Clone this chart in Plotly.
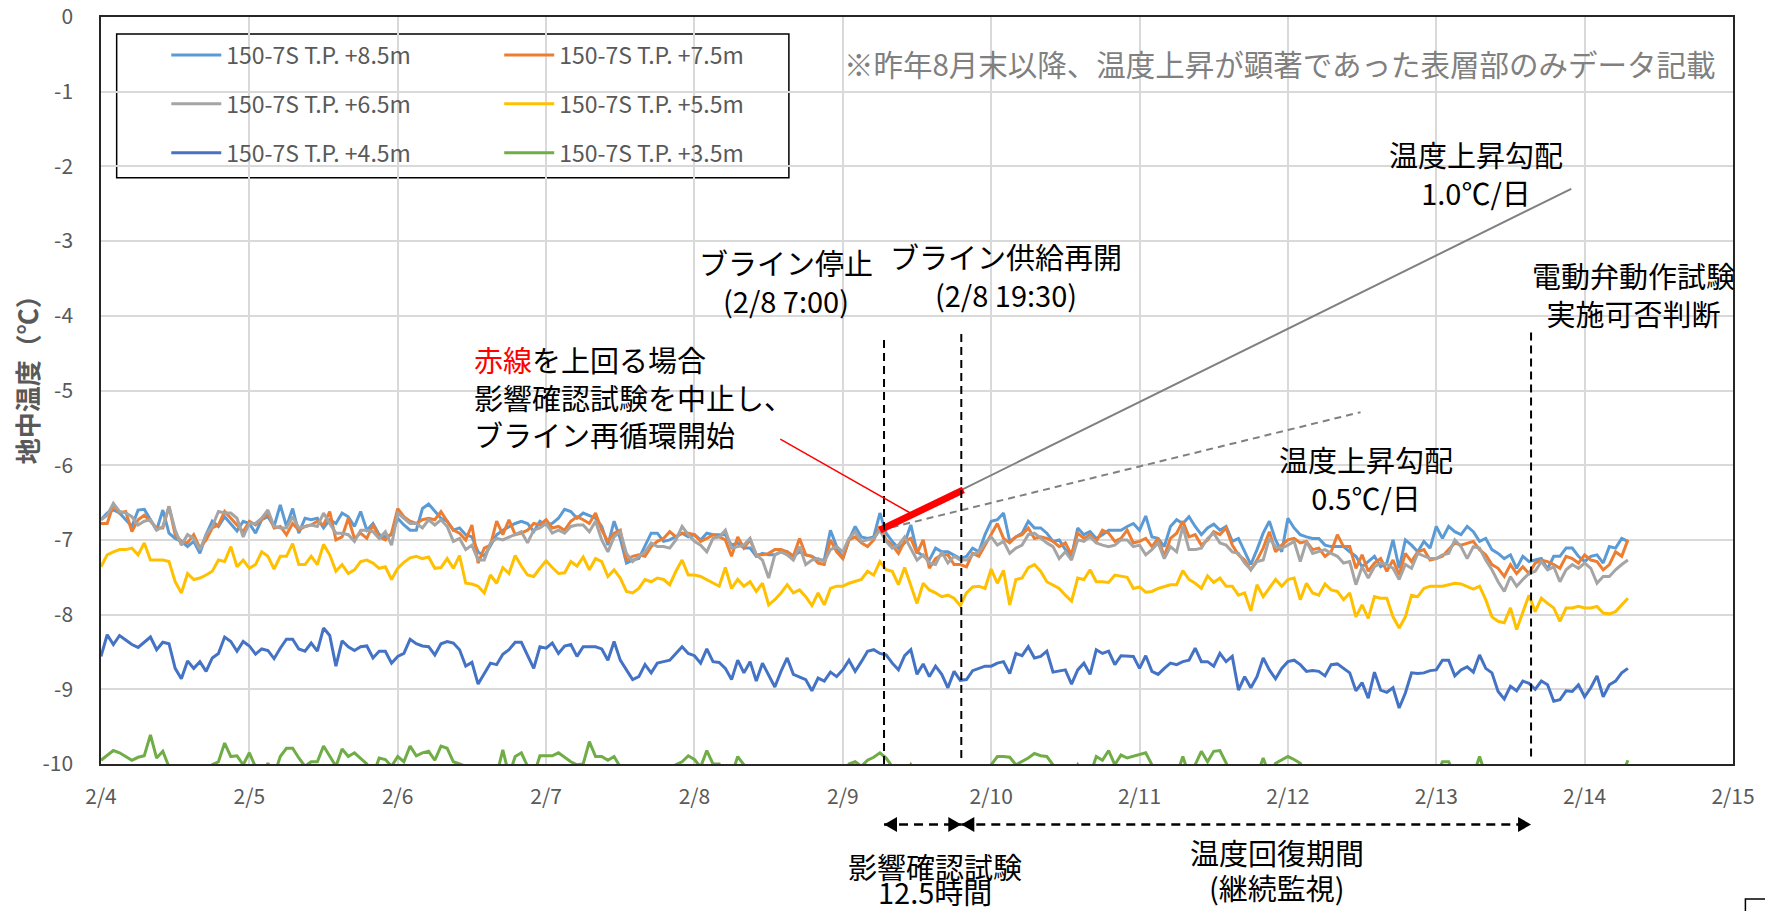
import pandas as pd
import plotly.graph_objects as go

FONT = "Noto Sans CJK JP"

# ---------------- data (hourly readings from 2/4 00:00) ----------------
START = "2024-02-04 00:00"

series_names = [
    "150-7S T.P. +8.5m", "150-7S T.P. +7.5m", "150-7S T.P. +6.5m",
    "150-7S T.P. +5.5m", "150-7S T.P. +4.5m", "150-7S T.P. +3.5m",
]
series_colors = ["#5B9BD5", "#ED7D31", "#A5A5A5", "#FFC000", "#4472C4", "#70AD47"]

temp_85 = [
    -6.73, -6.64, -6.60, -6.64, -6.73, -6.82, -6.60, -6.59, -6.73, -6.87,
    -6.60, -6.91, -6.98, -7.02, -7.09, -7.02, -7.18, -6.93, -6.75, -6.82,
    -6.69, -6.78, -6.88, -6.75, -6.78, -6.91, -6.73, -6.69, -6.82, -6.53,
    -6.82, -6.58, -6.91, -6.71, -6.73, -6.71, -6.84, -6.73, -6.78, -6.64,
    -6.69, -6.82, -6.62, -6.87, -6.78, -6.93, -6.96, -6.93, -6.71, -6.80,
    -6.87, -6.87, -6.58, -6.52, -6.62, -6.71, -6.75, -6.87, -6.84, -6.93,
    -6.96, -7.16, -7.22, -7.07, -6.93, -6.87, -6.82, -6.78, -6.75, -6.78,
    -6.89, -6.75, -6.80, -6.78, -6.71, -6.59, -6.62, -6.71, -6.64, -6.67,
    -6.71, -6.82,
    -7.07, -6.75, -6.98, -7.31, -7.27, -7.25, -7.07, -6.91, -6.91, -7.02,
    -7.00, -6.96, -6.91, -6.96, -6.93, -7.00, -6.91, -6.93, -6.93, -6.93,
    -7.07, -7.04, -7.11, -7.11, -7.22, -7.18, -7.20, -7.20, -7.16, -7.16,
    -7.22, -7.16, -7.20, -7.22, -7.27, -7.27, -6.87, -7.09, -7.25, -7.00,
    -6.82, -6.96, -6.98, -6.96, -6.64, -6.91, -7.02, -7.11, -7.04, -6.80,
    -7.16, -7.22, -7.27, -7.11, -7.16, -7.16, -7.20, -7.25, -7.22, -7.11,
    -7.16, -6.93, -6.75, -6.73, -6.64, -7.02, -6.96, -6.91, -6.75, -6.84,
    -6.84, -6.91, -7.02, -7.00, -7.13, -7.22, -6.84, -6.93, -6.89, -6.98,
    -6.93, -6.87,
    -6.87, -6.87, -6.82, -6.78, -6.87, -6.68, -6.96, -6.98, -7.09, -6.82,
    -6.73, -6.78, -6.69, -6.82, -6.93, -6.84, -6.79, -6.87, -6.82, -7.02,
    -6.98, -7.16, -7.33, -7.13, -6.91, -6.75, -7.00, -7.16, -6.71, -6.84,
    -6.93, -6.96, -6.98, -6.98, -7.07, -7.09, -7.09, -7.09, -7.16, -7.22,
    -7.36, -7.29, -7.22, -7.36, -7.31, -7.00, -7.38, -7.00, -7.07, -7.16,
    -7.02, -7.11, -6.82, -6.98, -6.82, -6.89, -6.93, -6.82, -6.89, -7.02,
    -6.98, -7.13, -7.18, -7.25, -7.20, -7.38, -7.22, -7.29, -7.27, -7.25,
    -7.39, -7.22, -7.22, -7.11, -7.11, -7.22, -7.29, -7.22, -7.20, -7.31,
    -7.09, -7.11, -6.98, -7.02,
]

temp_75 = [
    -6.78, -6.78, -6.53, -6.64, -6.62, -6.89, -6.73, -6.67, -6.75, -6.84,
    -6.84, -6.55, -6.93, -7.02, -7.04, -6.93, -7.11, -7.00, -6.84, -6.80,
    -6.62, -6.71, -6.80, -6.89, -6.75, -6.80, -6.73, -6.64, -6.84, -6.82,
    -6.93, -6.78, -6.87, -6.82, -6.80, -6.75, -6.80, -6.62, -7.00, -6.96,
    -6.71, -6.98, -6.91, -6.98, -6.80, -6.96, -7.00, -6.91, -6.58, -6.69,
    -6.75, -6.78, -6.73, -6.71, -6.73, -6.62, -6.75, -6.87, -6.91, -7.00,
    -6.80, -7.31, -7.11, -7.07, -6.75, -6.93, -6.73, -6.93, -6.91, -6.87,
    -6.78, -6.80, -6.73, -6.84, -6.82, -6.87, -6.75, -6.69, -6.73, -6.78,
    -6.64, -6.87,
    -7.02, -6.91, -6.87, -7.27, -7.22, -7.20, -7.22, -7.09, -7.02, -6.98,
    -6.89, -6.96, -6.91, -6.91, -6.93, -7.02, -6.98, -6.93, -6.96, -7.00,
    -7.22, -6.96, -7.11, -7.00, -7.20, -7.20, -7.18, -7.13, -7.13, -7.16,
    -7.22, -6.98, -7.20, -7.22, -7.31, -7.33, -7.00, -7.16, -7.25, -7.00,
    -6.96, -7.04, -7.09, -7.00, -6.82, -7.00, -7.07, -7.18, -7.02, -6.98,
    -7.18, -7.00, -7.38, -7.25, -7.20, -7.20, -7.33, -7.33, -7.36, -7.18,
    -7.22, -7.07, -6.93, -6.78, -6.98, -7.04, -6.96, -6.93, -6.84, -6.98,
    -6.96, -6.98, -7.02, -7.09, -7.04, -7.20, -6.91, -6.98, -6.93, -7.02,
    -6.87, -6.91,
    -7.02, -6.98, -6.87, -7.04, -7.02, -6.98, -7.09, -6.98, -7.22, -6.98,
    -6.91, -6.75, -6.96, -6.93, -7.07, -7.00, -6.89, -6.93, -6.84, -7.07,
    -7.20, -7.27, -7.40, -7.27, -7.11, -6.89, -7.16, -7.07, -7.00, -6.98,
    -7.04, -7.02, -7.13, -7.11, -7.22, -7.16, -6.93, -7.09, -7.09, -7.38,
    -7.20, -7.42, -7.31, -7.25, -7.42, -7.27, -7.47, -7.18, -7.29, -7.16,
    -7.13, -7.27, -7.25, -7.22, -7.13, -7.04, -7.07, -7.04, -7.02, -7.13,
    -7.20, -7.33, -7.38, -7.49, -7.33, -7.45, -7.36, -7.45, -7.31, -7.27,
    -7.29, -7.33, -7.38, -7.22, -7.25, -7.31, -7.20, -7.27, -7.29, -7.40,
    -7.33, -7.16, -7.22, -7.00,
]

temp_65 = [
    -6.73, -6.67, -6.51, -6.62, -6.64, -6.69, -6.80, -6.75, -6.73, -6.87,
    -6.82, -6.55, -6.87, -7.07, -6.93, -6.98, -7.13, -6.93, -6.82, -6.62,
    -6.64, -6.64, -6.71, -6.96, -6.78, -6.78, -6.71, -6.60, -6.82, -6.84,
    -6.84, -6.69, -6.84, -6.82, -6.80, -6.82, -6.64, -6.78, -6.91, -6.91,
    -6.93, -7.02, -6.87, -6.87, -6.89, -6.98, -6.89, -7.07, -6.64, -6.71,
    -6.78, -6.78, -6.84, -6.73, -6.80, -6.73, -6.82, -7.02, -6.98, -7.13,
    -7.07, -7.27, -7.27, -7.04, -6.98, -7.00, -6.96, -6.93, -6.89, -7.04,
    -6.87, -6.84, -6.78, -6.91, -6.87, -6.91, -6.82, -6.80, -6.80, -6.89,
    -6.75, -7.00,
    -7.16, -6.96, -6.89, -7.18, -7.29, -7.22, -7.16, -7.04, -7.09, -7.09,
    -7.11, -7.00, -6.82, -6.93, -7.02, -7.07, -7.16, -6.98, -6.96, -6.87,
    -7.11, -7.09, -7.07, -6.98, -7.20, -7.27, -7.51, -7.20, -7.16, -7.20,
    -7.27, -7.09, -7.33, -7.27, -7.25, -7.29, -7.13, -7.09, -7.16, -6.98,
    -6.89, -7.02, -7.00, -6.98, -6.87, -7.02, -7.11, -7.07, -6.96, -7.11,
    -7.27, -7.20, -7.31, -7.33, -7.16, -7.31, -7.22, -7.27, -7.27, -7.20,
    -7.16, -7.04, -6.96, -7.07, -7.02, -7.18, -7.11, -7.07, -6.93, -6.91,
    -6.98, -7.04, -7.09, -7.25, -7.16, -7.27, -7.00, -7.02, -6.96, -7.04,
    -7.07, -7.09,
    -7.07, -7.00, -7.00, -7.09, -7.07, -7.20, -7.13, -7.04, -7.25, -7.09,
    -7.16, -6.82, -7.13, -7.13, -7.11, -6.98, -6.91, -7.04, -7.07, -7.16,
    -7.18, -7.31, -7.40, -7.29, -7.27, -6.98, -7.09, -7.11, -7.07, -7.02,
    -7.29, -7.02, -7.18, -7.16, -7.13, -7.18, -7.22, -7.31, -7.29, -7.60,
    -7.36, -7.51, -7.36, -7.31, -7.33, -7.38, -7.53, -7.33, -7.38, -7.18,
    -7.22, -7.25, -7.25, -7.20, -7.18, -7.00, -7.09, -7.25, -7.09, -7.11,
    -7.27, -7.40, -7.56, -7.69, -7.49, -7.62, -7.53, -7.45, -7.42, -7.29,
    -7.40, -7.36, -7.56, -7.40, -7.33, -7.38, -7.31, -7.38, -7.58, -7.49,
    -7.49, -7.40, -7.33, -7.27,
]

temp_55 = [
    -7.36, -7.20, -7.16, -7.13, -7.13, -7.11, -7.20, -7.04, -7.27, -7.27,
    -7.27, -7.29, -7.56, -7.71, -7.45, -7.53, -7.51, -7.47, -7.42, -7.27,
    -7.29, -7.09, -7.36, -7.27, -7.38, -7.33, -7.16, -7.22, -7.39, -7.22,
    -7.22, -7.05, -7.33, -7.33, -7.22, -7.33, -7.06, -7.20, -7.42, -7.33,
    -7.45, -7.40, -7.29, -7.27, -7.31, -7.38, -7.36, -7.53, -7.38, -7.30,
    -7.24, -7.22, -7.25, -7.23, -7.38, -7.37, -7.25, -7.38, -7.21, -7.58,
    -7.59, -7.62, -7.71, -7.47, -7.58, -7.37, -7.45, -7.21, -7.35, -7.47,
    -7.49, -7.38, -7.28, -7.37, -7.45, -7.44, -7.29, -7.35, -7.23, -7.40,
    -7.25, -7.29,
    -7.49, -7.40, -7.51, -7.69, -7.71, -7.65, -7.53, -7.56, -7.51, -7.53,
    -7.60, -7.42, -7.27, -7.47, -7.47, -7.49, -7.53, -7.58, -7.62, -7.37,
    -7.65, -7.53, -7.62, -7.56, -7.69, -7.58, -7.87, -7.80, -7.71, -7.60,
    -7.71, -7.67, -7.76, -7.88, -7.71, -7.87, -7.65, -7.62, -7.62, -7.58,
    -7.56, -7.53, -7.42, -7.47, -7.29, -7.40, -7.42, -7.60, -7.37, -7.62,
    -7.85, -7.58, -7.67, -7.71, -7.76, -7.74, -7.78, -7.88, -7.71, -7.63,
    -7.62, -7.65, -7.39, -7.58, -7.41, -7.87, -7.53, -7.51, -7.37, -7.33,
    -7.42, -7.56, -7.60, -7.65, -7.74, -7.82, -7.51, -7.53, -7.40, -7.56,
    -7.56, -7.57,
    -7.47, -7.48, -7.50, -7.65, -7.63, -7.70, -7.69, -7.65, -7.63, -7.60,
    -7.60, -7.41, -7.53, -7.58, -7.65, -7.48, -7.57, -7.51, -7.62, -7.62,
    -7.74, -7.71, -7.95, -7.60, -7.76, -7.65, -7.53, -7.62, -7.53, -7.51,
    -7.80, -7.58, -7.71, -7.74, -7.59, -7.67, -7.69, -7.80, -7.71, -8.03,
    -7.87, -8.05, -7.76, -7.78, -7.78, -8.03, -8.18, -8.03, -7.74, -7.76,
    -7.65, -7.62, -7.62, -7.62, -7.60, -7.58, -7.59, -7.62, -7.66, -7.62,
    -7.80, -8.03, -8.09, -8.11, -7.91, -8.20, -7.98, -7.74, -7.96, -7.78,
    -7.85, -7.91, -8.09, -7.91, -7.91, -7.89, -7.91, -7.91, -7.89, -7.98,
    -7.99, -7.96, -7.87, -7.78,
]

temp_45 = [
    -8.56, -8.27, -8.40, -8.28, -8.34, -8.40, -8.44, -8.37, -8.30, -8.47,
    -8.37, -8.39, -8.72, -8.86, -8.62, -8.72, -8.63, -8.76, -8.58, -8.52,
    -8.30, -8.36, -8.49, -8.36, -8.42, -8.53, -8.46, -8.48, -8.59, -8.45,
    -8.33, -8.33, -8.46, -8.49, -8.38, -8.49, -8.18, -8.28, -8.69, -8.35,
    -8.43, -8.48, -8.43, -8.42, -8.58, -8.49, -8.49, -8.65, -8.56, -8.52,
    -8.33, -8.39, -8.42, -8.43, -8.54, -8.39, -8.36, -8.38, -8.47, -8.69,
    -8.64, -8.93, -8.78, -8.65, -8.67, -8.53, -8.47, -8.37, -8.37, -8.54,
    -8.72, -8.43, -8.45, -8.38, -8.52, -8.42, -8.40, -8.56, -8.43, -8.43,
    -8.43, -8.46,
    -8.61, -8.36, -8.61, -8.74, -8.87, -8.83, -8.67, -8.78, -8.65, -8.63,
    -8.61, -8.52, -8.43, -8.52, -8.55, -8.65, -8.46, -8.63, -8.64, -8.72,
    -8.87, -8.61, -8.78, -8.63, -8.89, -8.65, -8.80, -8.97, -8.76, -8.58,
    -8.80, -8.83, -8.87, -9.02, -8.85, -8.89, -8.77, -8.83, -8.74, -8.61,
    -8.76, -8.63, -8.49, -8.47, -8.52, -8.54, -8.65, -8.74, -8.55, -8.47,
    -8.80, -8.66, -8.83, -8.69, -8.80, -8.98, -8.76, -8.88, -8.87, -8.75,
    -8.72, -8.69, -8.69, -8.65, -8.63, -8.79, -8.52, -8.55, -8.43, -8.58,
    -8.56, -8.49, -8.77, -8.75, -8.74, -8.93, -8.74, -8.65, -8.80, -8.47,
    -8.52, -8.49,
    -8.67, -8.55, -8.56, -8.56, -8.72, -8.55, -8.76, -8.80, -8.72, -8.65,
    -8.67, -8.63, -8.61, -8.45, -8.63, -8.63, -8.69, -8.52, -8.63, -8.56,
    -9.01, -8.83, -8.98, -8.83, -8.58, -8.74, -8.86, -8.72, -8.63, -8.61,
    -8.67, -8.76, -8.75, -8.76, -8.82, -8.67, -8.66, -8.72, -8.78, -9.02,
    -8.91, -9.12, -8.77, -9.01, -9.04, -8.98, -9.25, -9.05, -8.78, -8.79,
    -8.78, -8.75, -8.74, -8.61, -8.61, -8.82, -8.74, -8.70, -8.77, -8.54,
    -8.72, -8.78, -9.03, -9.13, -8.96, -9.02, -8.89, -8.92, -9.00, -8.89,
    -8.94, -9.16, -9.14, -9.02, -9.03, -8.94, -9.10, -8.98, -8.82, -9.10,
    -8.94, -8.89, -8.78, -8.72,
]

# values below -10 are off the chart (clipped at the axis, as in the source)
temp_35 = [
    -9.95, -9.89, -9.82, -9.85, -9.90, -9.95, -9.91, -9.89, -9.61, -9.92,
    -9.83, -10.04, -10.15, -10.15, -10.15, -10.15, -10.15, -10.15, -10.01, -9.97,
    -9.72, -9.90, -9.89, -10.01, -9.85, -10.04, -10.15, -9.99, -10.15, -9.90,
    -9.79, -9.79, -9.92, -10.03, -9.97, -9.97, -9.76, -9.90, -10.03, -9.80,
    -9.90, -9.85, -9.92, -10.00, -10.15, -9.92, -9.94, -10.03, -9.90, -9.97,
    -9.76, -9.89, -9.85, -9.83, -9.95, -9.76, -9.79, -9.97, -10.00, -10.03,
    -10.15, -10.15, -10.15, -10.15, -10.15, -9.81, -10.15, -9.90, -9.85, -10.03,
    -10.15, -9.89, -9.89, -9.89, -9.85, -9.91, -9.97, -10.01, -10.00, -9.70,
    -9.90, -9.90,
    -9.95, -9.90, -10.04, -10.15, -10.15, -10.15, -10.15, -10.15, -10.15, -10.15,
    -10.15, -10.01, -9.97, -9.89, -9.94, -10.04, -9.82, -10.00, -10.00, -10.15,
    -10.15, -9.90, -10.01, -10.15, -10.15, -10.15, -10.15, -10.15, -10.15, -10.15,
    -10.15, -10.15, -10.15, -10.15, -10.15, -10.15, -10.15, -10.15, -10.15, -10.00,
    -9.97, -10.03, -9.95, -9.91, -9.85, -9.92, -10.03, -10.15, -10.15, -10.01,
    -10.15, -10.15, -10.15, -10.15, -10.15, -10.15, -10.15, -10.15, -10.15, -10.15,
    -10.15, -10.15, -10.01, -9.90, -9.90, -9.91, -10.01, -9.97, -9.92, -9.86,
    -9.89, -9.90, -10.01, -10.15, -10.15, -10.15, -10.01, -10.15, -10.15, -9.90,
    -9.95, -9.82,
    -10.01, -9.88, -9.92, -9.90, -9.88, -9.85, -10.01, -10.15, -10.15, -10.15,
    -10.15, -9.90, -10.15, -10.01, -9.83, -9.97, -9.83, -9.82, -9.99, -10.15,
    -10.15, -10.15, -10.15, -10.15, -9.92, -10.15, -9.99, -9.94, -9.90, -9.94,
    -9.99, -10.15, -10.15, -10.15, -10.15, -10.15, -10.15, -10.15, -10.15, -10.15,
    -10.15, -10.15, -10.15, -10.15, -10.15, -10.15, -10.15, -10.15, -10.15, -10.15,
    -10.15, -10.15, -10.15, -9.97, -9.97, -10.15, -10.15, -10.15, -10.15, -9.90,
    -10.15, -10.15, -10.15, -10.15, -10.15, -10.15, -10.15, -10.15, -10.15, -10.15,
    -10.15, -10.15, -10.15, -10.15, -10.15, -10.15, -10.15, -10.15, -10.15, -10.15,
    -10.15, -10.15, -10.15, -9.95,
]

series_values = [temp_85, temp_75, temp_65, temp_55, temp_45, temp_35]
series_legend = ["legend", "legend2", "legend", "legend2", "legend", "legend2"]

x_tick_dates = ["2024-02-04", "2024-02-05", "2024-02-06", "2024-02-07", "2024-02-08", "2024-02-09",
                "2024-02-10", "2024-02-11", "2024-02-12", "2024-02-13", "2024-02-14", "2024-02-15"]
x_tick_labels = ["2/4", "2/5", "2/6", "2/7", "2/8", "2/9", "2/10", "2/11", "2/12", "2/13", "2/14", "2/15"]
y_tick_values = [0, -1, -2, -3, -4, -5, -6, -7, -8, -9, -10]
y_tick_labels = ["0", "-1", "-2", "-3", "-4", "-5", "-6", "-7", "-8", "-9", "-10"]
y_title = "地中温度（℃）"

# event times (brine stop, brine restart, valve-test decision)
event_times = ["2024-02-09 06:40", "2024-02-09 19:10", "2024-02-13 15:20"]
event_top = [-4.30, -4.23, -4.21]
event_bottom = [-10.0, -9.92, -9.90]

# temperature-rise gradient guide lines
grad10_x = ["2024-02-09 06:00", "2024-02-13 21:50"]
grad10_y = [-6.87, -2.30]
grad05_x = ["2024-02-09 06:00", "2024-02-12 11:45"]
grad05_y = [-6.87, -5.29]
red_x = ["2024-02-09 06:00", "2024-02-09 19:30"]
red_y = [-6.87, -6.33]
callout_x = ["2024-02-08 13:53", "2024-02-09 10:55"]
callout_y = [-5.65, -6.64]

for v in series_values:
    assert len(v) == 248, len(v)

times = pd.date_range(START, periods=len(temp_85), freq="h")

fig = go.Figure()
for name, color, vals, leg in zip(series_names, series_colors, series_values, series_legend):
    fig.add_trace(go.Scatter(
        x=times, y=vals, mode="lines", name=name, legend=leg, legendgroup=name,
        line=dict(color=color, width=3), hoverinfo="skip",
    ))

fig.add_trace(go.Scatter(x=grad10_x, y=grad10_y, mode="lines", showlegend=False,
                         line=dict(color="#808080", width=2), hoverinfo="skip"))
fig.add_trace(go.Scatter(x=grad05_x, y=grad05_y, mode="lines", showlegend=False,
                         line=dict(color="#808080", width=2, dash="7px,5px"), hoverinfo="skip"))
fig.add_trace(go.Scatter(x=red_x, y=red_y, mode="lines", showlegend=False,
                         line=dict(color="#FF0000", width=7), hoverinfo="skip"))

shapes = []
# legend frame
shapes.append(dict(type="rect", xref="paper", yref="paper", x0=0.0096, x1=0.4215, y0=0.7849, y1=0.9772,
                   line=dict(color="#000000", width=1.5), fillcolor="white", layer="between"))
# event vertical dashed lines
for t, y0, y1 in zip(event_times, event_bottom, event_top):
    shapes.append(dict(type="line", xref="x", yref="y", x0=t, x1=t, y0=y0, y1=y1,
                       line=dict(color="#000000", width=2, dash="8px,5px")))
# red callout line
shapes.append(dict(type="line", xref="x", yref="y", x0=callout_x[0], y0=callout_y[0],
                   x1=callout_x[1], y1=callout_y[1], line=dict(color="#FF0000", width=1.5)))
# bottom period arrows
ARROW_Y = -0.081
for a, b in [(event_times[0], event_times[1]), (event_times[1], event_times[2])]:
    shapes.append(dict(type="line", xref="x", yref="paper", x0=a, x1=b, y0=ARROW_Y, y1=ARROW_Y,
                       line=dict(color="#000000", width=2.5, dash="9px,6px")))
    shapes.append(dict(type="path", xref="x", yref="paper", xsizemode="pixel", ysizemode="pixel",
                       xanchor=a, yanchor=ARROW_Y, path="M0,0 L13,7.5 L13,-7.5 Z",
                       fillcolor="#000000", line=dict(width=0)))
    shapes.append(dict(type="path", xref="x", yref="paper", xsizemode="pixel", ysizemode="pixel",
                       xanchor=b, yanchor=ARROW_Y, path="M0,0 L-13,7.5 L-13,-7.5 Z",
                       fillcolor="#000000", line=dict(width=0)))
# small frame corner at bottom right
shapes.append(dict(type="rect", xref="paper", yref="paper", x0=1.0076, x1=1.06, y0=-0.3, y1=-0.1807,
                   line=dict(color="#000000", width=1.5)))

ann_font = dict(family=FONT, size=29, color="#000000")
annotations = [
    dict(x=-0.0460, y=0.523, text=y_title, textangle=-90, borderpad=0,
         font=dict(family=FONT, size=26, color="#595959", weight="bold")),
    dict(x=0.7225, y=0.9384, text="※昨年8月末以降、温度上昇が顕著であった表層部のみデータ記載",
         font=dict(family=FONT, size=29.5, color="#808080")),
    dict(x=0.4198, y=0.6466, text="ブライン停止<br>(2/8 7:00)", font=ann_font),
    dict(x=0.5547, y=0.6546, text="ブライン供給再開<br>(2/8 19:30)", font=ann_font),
    dict(x=0.2274, y=0.4926, xanchor="left", align="left", font=ann_font,
         text="<span style='color:#FF0000'>赤線</span>を上回る場合<br>影響確認試験を中止し、<br>ブライン再循環開始"),
    dict(x=0.8427, y=0.7910, text="温度上昇勾配<br>1.0℃/日", font=ann_font),
    dict(x=0.9390, y=0.6292, text="電動弁動作試験<br>実施可否判断", font=ann_font),
    dict(x=0.7753, y=0.3829, text="温度上昇勾配<br>0.5℃/日", font=ann_font),
    dict(x=0.5112, y=-0.1365, text="影響確認試験", font=ann_font),
    dict(x=0.5112, y=-0.1700, text="12.5時間", font=ann_font, borderpad=0),
    dict(x=0.7208, y=-0.1178, text="温度回復期間", font=ann_font),
    dict(x=0.7208, y=-0.1647, text="(継続監視)", font=ann_font),
]
for a in annotations:
    a.setdefault("xref", "paper")
    a.setdefault("yref", "paper")
    a.setdefault("xanchor", "center")
    a.setdefault("yanchor", "middle")
    a.setdefault("showarrow", False)

legend_common = dict(
    xanchor="left", yanchor="top", orientation="v", bgcolor="rgba(0,0,0,0)", borderwidth=0,
    font=dict(family=FONT, size=23, color="#595959"), tracegroupgap=16, itemwidth=50,
    itemclick=False, itemdoubleclick=False,
)

fig.update_layout(
    width=1765, height=911,
    margin=dict(l=101, r=32, t=17, b=147, autoexpand=False),
    paper_bgcolor="white", plot_bgcolor="white",
    font=dict(family=FONT, color="#595959"),
    showlegend=True,
    legend=dict(x=0.040, y=0.978, **legend_common),
    legend2=dict(x=0.244, y=0.978, **legend_common),
    shapes=shapes,
    annotations=annotations,
    xaxis=dict(
        type="date", range=[x_tick_dates[0], x_tick_dates[-1]], automargin=False,
        tickmode="array", tickvals=x_tick_dates, ticktext=x_tick_labels,
        showgrid=True, gridcolor="#D9D9D9", gridwidth=1.5, zeroline=False,
        showline=True, linecolor="#262626", linewidth=1.5, mirror=True,
        ticks="", ticklabelstandoff=13, ticklabeloverflow="allow",
        tickfont=dict(family=FONT, size=21, color="#595959"),
    ),
    yaxis=dict(
        range=[-10, 0], automargin=False, tickmode="array", tickvals=y_tick_values, ticktext=y_tick_labels,
        showgrid=True, gridcolor="#D9D9D9", gridwidth=1.5, zeroline=False,
        showline=True, linecolor="#262626", linewidth=1.5, mirror=True,
        ticks="", ticklabelstandoff=22, ticklabeloverflow="allow",
        tickfont=dict(family=FONT, size=21, color="#595959"),
    ),
)

# remove the page's default 8px body margin so the figure fills the window exactly
fig.write_html("out.html", config={"displayModeBar": False},
               post_script="document.body.style.margin='0px';")
